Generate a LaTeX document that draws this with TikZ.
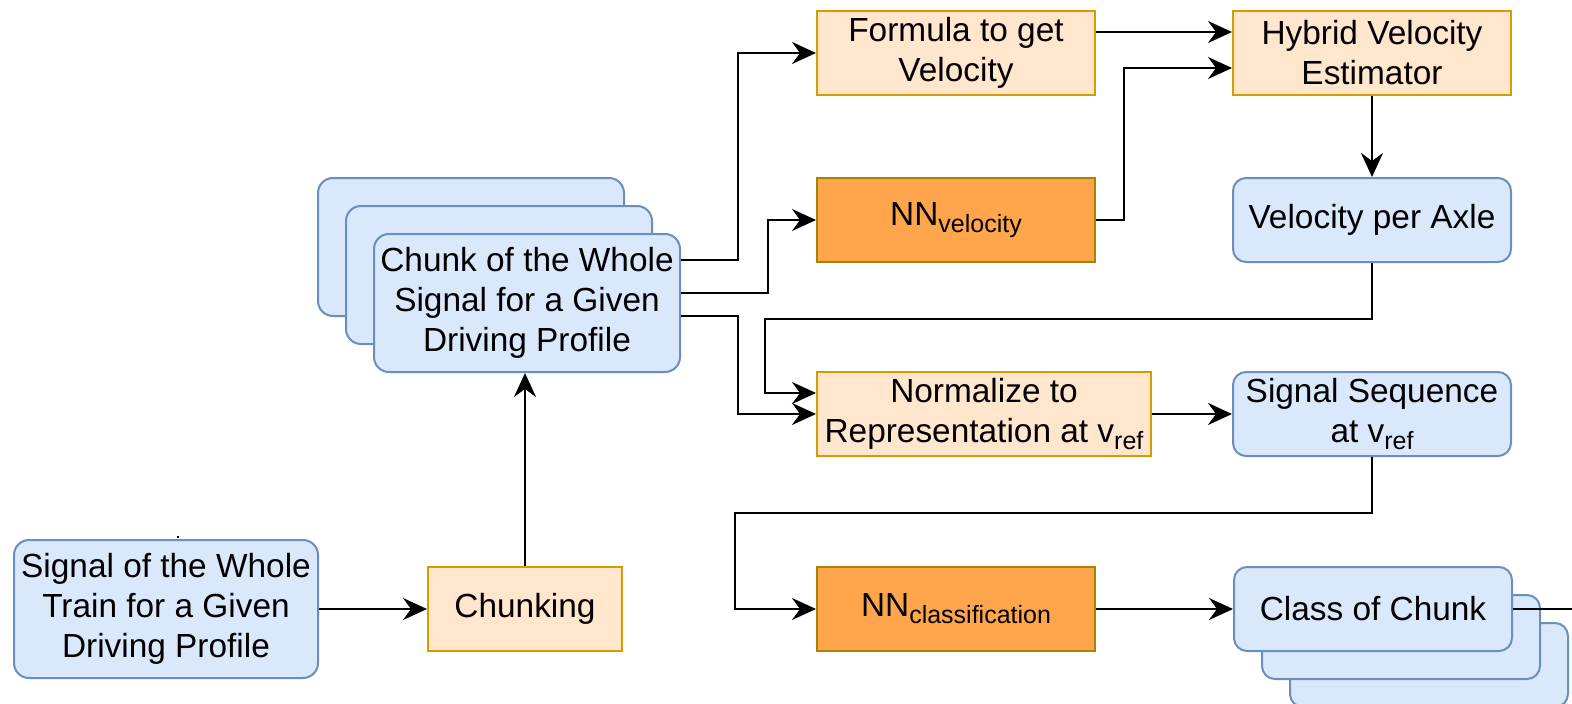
\documentclass[tikz,border=0pt]{standalone}
\usepackage{fontspec}
\setmainfont{Liberation Sans}
\usetikzlibrary{arrows.meta}

\definecolor{bluefill}{HTML}{DAE8FC}
\definecolor{bluedraw}{HTML}{6C8EBF}
\definecolor{orfill}{HTML}{FFE6CC}
\definecolor{ordraw}{HTML}{D79B00}
\definecolor{nnfill}{HTML}{FFA64D}
\definecolor{nndraw}{HTML}{A88400}

% lowered, smaller text for subscripts
\newcommand{\lowsub}[1]{\raisebox{-7pt}{\fontsize{25}{25}\selectfont #1}}

\begin{document}
\begin{tikzpicture}[x=1pt,y=-1pt,
  box/.style={draw, line width=2pt, minimum width=278pt, minimum height=84pt,
    align=center, inner sep=0pt, font=\fontsize{33.4}{40}\selectfont},
  blueb/.style={box, fill=bluefill, draw=bluedraw, rounded corners=13pt},
  bigblue/.style={blueb, minimum width=306pt, minimum height=138pt, rounded corners=15pt},
  proc/.style={box, fill=orfill, draw=ordraw},
  nnbox/.style={box, fill=nnfill, draw=nndraw},
  link/.style={line width=2.4pt, -{Stealth[length=24pt,width=22pt,inset=8pt]}},
  plain/.style={line width=2.4pt}]

\useasboundingbox (0,0) rectangle (1572,704);

% input signal and chunking
\node[bigblue, minimum width=304pt] (sig) at (166,609)
  {Signal of the Whole\\Train for a Given\\Driving Profile};
\node[proc, minimum width=194pt] (chunking) at (525,609) {Chunking};

% stacked chunks
\node[bigblue] (chunkb) at (471,247) {};
\node[bigblue] (chunkm) at (499,275) {};
\node[bigblue] (chunk) at (527,303)
  {Chunk of the Whole\\Signal for a Given\\Driving Profile};

% velocity branch
\node[proc] (formula) at (956,53) {Formula to get\\Velocity};
\node[nnbox] (nnv) at (956,220) {NN\lowsub{velocity}};
\node[proc] (hybrid) at (1372,53) {Hybrid Velocity\\Estimator};
\node[blueb] (vpa) at (1372,220) {Velocity per Axle};

% normalisation and classification
\node[proc, minimum width=334pt] (norm) at (984,414)
  {Normalize to\\Representation at v\lowsub{ref}};
\node[blueb] (seq) at (1372,414) {Signal Sequence\\at v\lowsub{ref}};
\node[nnbox] (nnc) at (956,609) {NN\lowsub{classification}};

% stacked classes
\node[blueb] (clsb) at (1429,665) {};
\node[blueb] (clsm) at (1401,637) {};
\node[blueb] (cls) at (1373,609) {Class of Chunk};
\coordinate (out) at (1572,609);

% connectors
\draw[link] (sig.east) -- (chunking.west);
\draw[line width=1.5pt] ([xshift=12pt,yshift=1pt]sig.north) -- ++(0,-2);
\draw[link] (chunking.north) -- (chunking.north |- chunk.south);
\draw[link] ([yshift=43pt]chunk.east) -- ++(57,0) |- (formula.west);
\draw[link] ([yshift=10pt]chunk.east) -- ++(87,0) |- (nnv.west);
\draw[link] ([yshift=-13pt]chunk.east) -- ++(57,0) |- (norm.west);
\draw[link] ([yshift=21pt]formula.east) -- ([yshift=21pt]hybrid.west);
\draw[link] (nnv.east) -- ++(28,0) |- ([yshift=-15pt]hybrid.west);
\draw[link] (hybrid.south) -- (vpa.north);
\draw[link] (vpa.south) -- ++(0,56) -| ([xshift=-51pt,yshift=21pt]norm.west)
  -- ([yshift=21pt]norm.west);
\draw[link] (norm.east) -- (seq.west);
\draw[link] (seq.south) -- ++(0,56) -| ([xshift=-81pt]nnc.west) -- (nnc.west);
\draw[link] (nnc.east) -- (cls.west);
\draw[plain] (cls.east) -- (out);

\end{tikzpicture}
\end{document}
